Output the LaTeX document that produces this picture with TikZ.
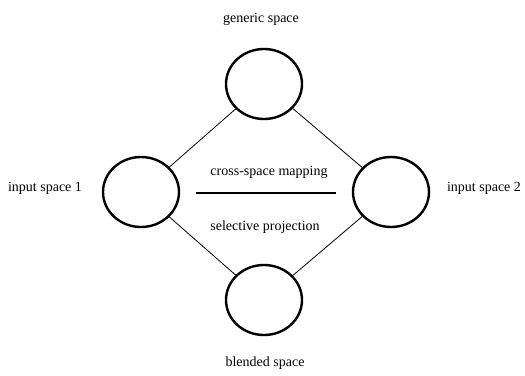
\documentclass[tikz,border=0pt]{standalone}
\usepackage{fontspec}
\setmainfont{Liberation Serif}
\usetikzlibrary{shapes.geometric}
\begin{document}
\begin{tikzpicture}[x=1pt,y=-1pt,
  space/.style={draw=black, line width=2.4pt, ellipse, minimum width=76pt, minimum height=70pt, inner sep=0pt},
  conn/.style={draw=black, line width=0.8pt},
  bar/.style={draw=black, line width=1.8pt},
  lab/.style={anchor=base, inner sep=0pt, font=\fontsize{14}{17}\selectfont}]
\useasboundingbox (0,0) rectangle (525,375);
\node[space] (g) at (264,84) {};
\node[space] (i1) at (141,192) {};
\node[space] (i2) at (391,192) {};
\node[space] (b) at (264,300) {};
\draw[conn] (g) -- (i1);
\draw[conn] (g) -- (i2);
\draw[conn] (b) -- (i1);
\draw[conn] (b) -- (i2);
\coordinate (l1) at (196,193);
\coordinate (l2) at (336,193);
\draw[bar] (l1) -- (l2);
\node[lab] (tg) at (261,22) {generic space};
\node[lab] (tb) at (265,366) {blended space};
\node[lab] (t1) at (45,191) {input space 1};
\node[lab] (t2) at (484,191) {input space 2};
\node[lab] (tc) at (269,175) {cross-space mapping};
\node[lab] (ts) at (265,230) {selective projection};
\end{tikzpicture}
\end{document}
